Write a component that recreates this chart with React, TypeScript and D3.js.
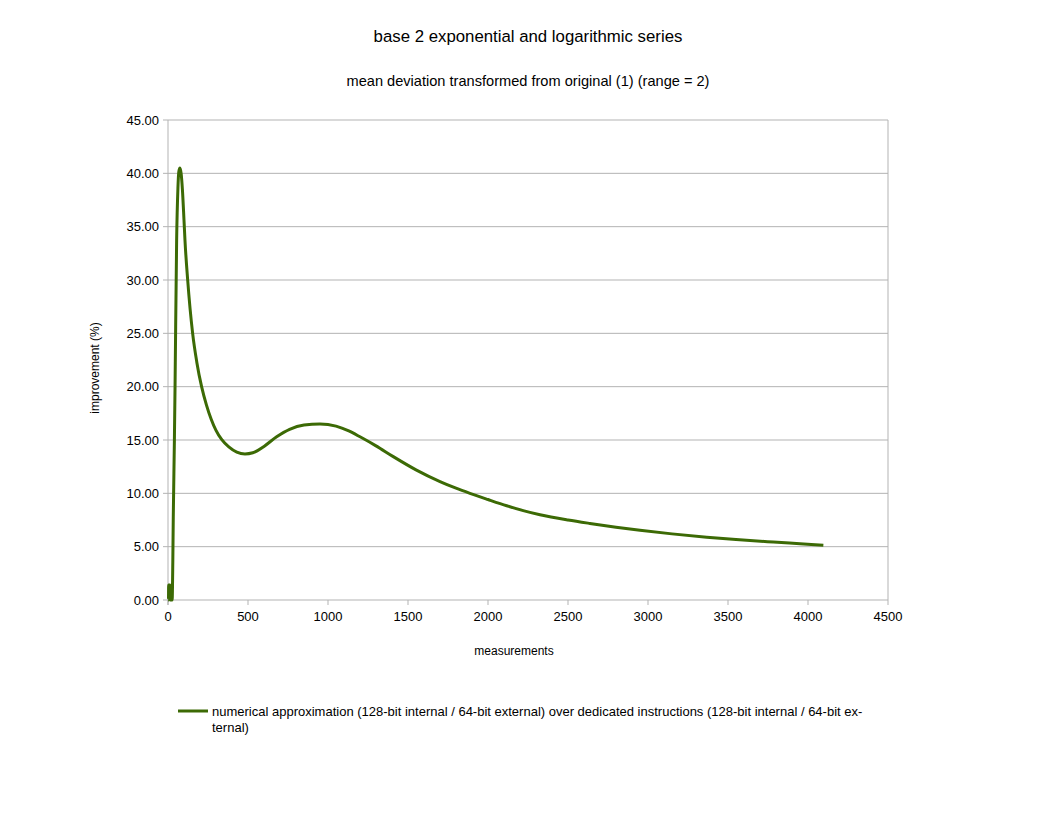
import * as React from "react";
import * as d3 from "d3";

const measurements = [
  1, 3, 4, 12, 14, 16, 26, 30, 33, 40, 44, 54, 62, 68, 75, 82, 90, 100, 106, 123, 154, 180, 210,
  240, 270, 300, 335, 380, 430, 481, 530, 600, 679, 760, 850, 950, 1050, 1130, 1200, 1300, 1408,
  1550, 1700, 1800, 1887, 2000, 2117, 2220, 2325, 2500, 2637, 2800, 2950, 3150, 3367, 3550, 3783,
  3950, 4096,
];
const improvement = [
  0, 0, 1.4, 1.4, 0, 0, 0, 3.5, 7.8, 15, 20, 33.75, 38.6, 40.2, 40.5, 40.0, 38.5, 35.6, 33.75, 30,
  25, 22.3, 20, 18.3, 16.95, 15.9, 15.05, 14.35, 13.86, 13.69, 13.8, 14.4, 15.3, 16.0, 16.4, 16.5,
  16.3, 15.85, 15.3, 14.45, 13.44, 12.2, 11.1, 10.48, 10.0, 9.42, 8.84, 8.38, 7.99, 7.5, 7.18,
  6.83, 6.54, 6.2, 5.89, 5.67, 5.43, 5.27, 5.13,
];
const xTicks = [0, 500, 1000, 1500, 2000, 2500, 3000, 3500, 4000, 4500];
const yTicks = [0, 5, 10, 15, 20, 25, 30, 35, 40, 45];

const title = "base 2 exponential and logarithmic series";
const subtitle = "mean deviation transformed from original (1) (range = 2)";
const xLabel = "measurements";
const yLabel = "improvement (%)";
const legendLines = [
  "numerical approximation (128-bit internal / 64-bit external) over dedicated instructions (128-bit internal / 64-bit ex-",
  "ternal)",
];

const W = 1056;
const H = 816;
const plot = { left: 168, right: 888, top: 120, bottom: 600 };
const font = "'Liberation Sans', Arial, sans-serif";
const gridColor = "#b3b3b3";
const lineColor = "#3c6a05";

export default function App() {
  const x = d3.scaleLinear().domain([0, 4500]).range([plot.left, plot.right]);
  const y = d3.scaleLinear().domain([0, 45]).range([plot.bottom, plot.top]);

  const points: [number, number][] = measurements.map((m, i) => [m, improvement[i]]);
  const line = d3
    .line<[number, number]>()
    .x((d) => x(d[0]))
    .y((d) => y(d[1]))
    .curve(d3.curveMonotoneX);

  return (
    <svg
      width={W}
      height={H}
      style={{ position: "absolute", left: 0, top: 0, background: "#fff" }}
      fontFamily={font}
    >
      <rect x={0} y={0} width={W} height={H} fill="#fff" />
      <text x={528} y={42} textAnchor="middle" fontSize={16.8}>
        {title}
      </text>
      <text x={528} y={86} textAnchor="middle" fontSize={14.6}>
        {subtitle}
      </text>

      {/* grid */}
      {yTicks.map((t) => (
        <line key={"g" + t} x1={plot.left - 5} x2={plot.right} y1={y(t)} y2={y(t)} stroke={gridColor} strokeWidth={1} />
      ))}
      <line x1={plot.left} x2={plot.left} y1={plot.top} y2={plot.bottom + 5} stroke={gridColor} />
      <line x1={plot.right} x2={plot.right} y1={plot.top} y2={plot.bottom} stroke={gridColor} />
      {xTicks.map((t) => (
        <line key={"xt" + t} x1={x(t)} x2={x(t)} y1={plot.bottom} y2={plot.bottom + 5} stroke={gridColor} />
      ))}

      {/* tick labels */}
      {yTicks.map((t) => (
        <text key={"yl" + t} x={plot.left - 9} y={y(t) + 4.5} textAnchor="end" fontSize={13}>
          {t.toFixed(2)}
        </text>
      ))}
      {xTicks.map((t) => (
        <text key={"xl" + t} x={x(t)} y={621} textAnchor="middle" fontSize={13}>
          {t}
        </text>
      ))}

      <text x={514} y={655} textAnchor="middle" fontSize={12}>
        {xLabel}
      </text>
      <text transform={`translate(99,${368}) rotate(-90)`} textAnchor="middle" fontSize={12}>
        {yLabel}
      </text>

      <path d={line(points) || ""} fill="none" stroke={lineColor} strokeWidth={3} strokeLinejoin="round" />

      {/* legend */}
      <line x1={178} x2={208} y1={711} y2={711} stroke={lineColor} strokeWidth={3} />
      {legendLines.map((l, i) => (
        <text key={"lg" + i} x={212} y={716 + i * 16} fontSize={13}>
          {l}
        </text>
      ))}
    </svg>
  );
}
